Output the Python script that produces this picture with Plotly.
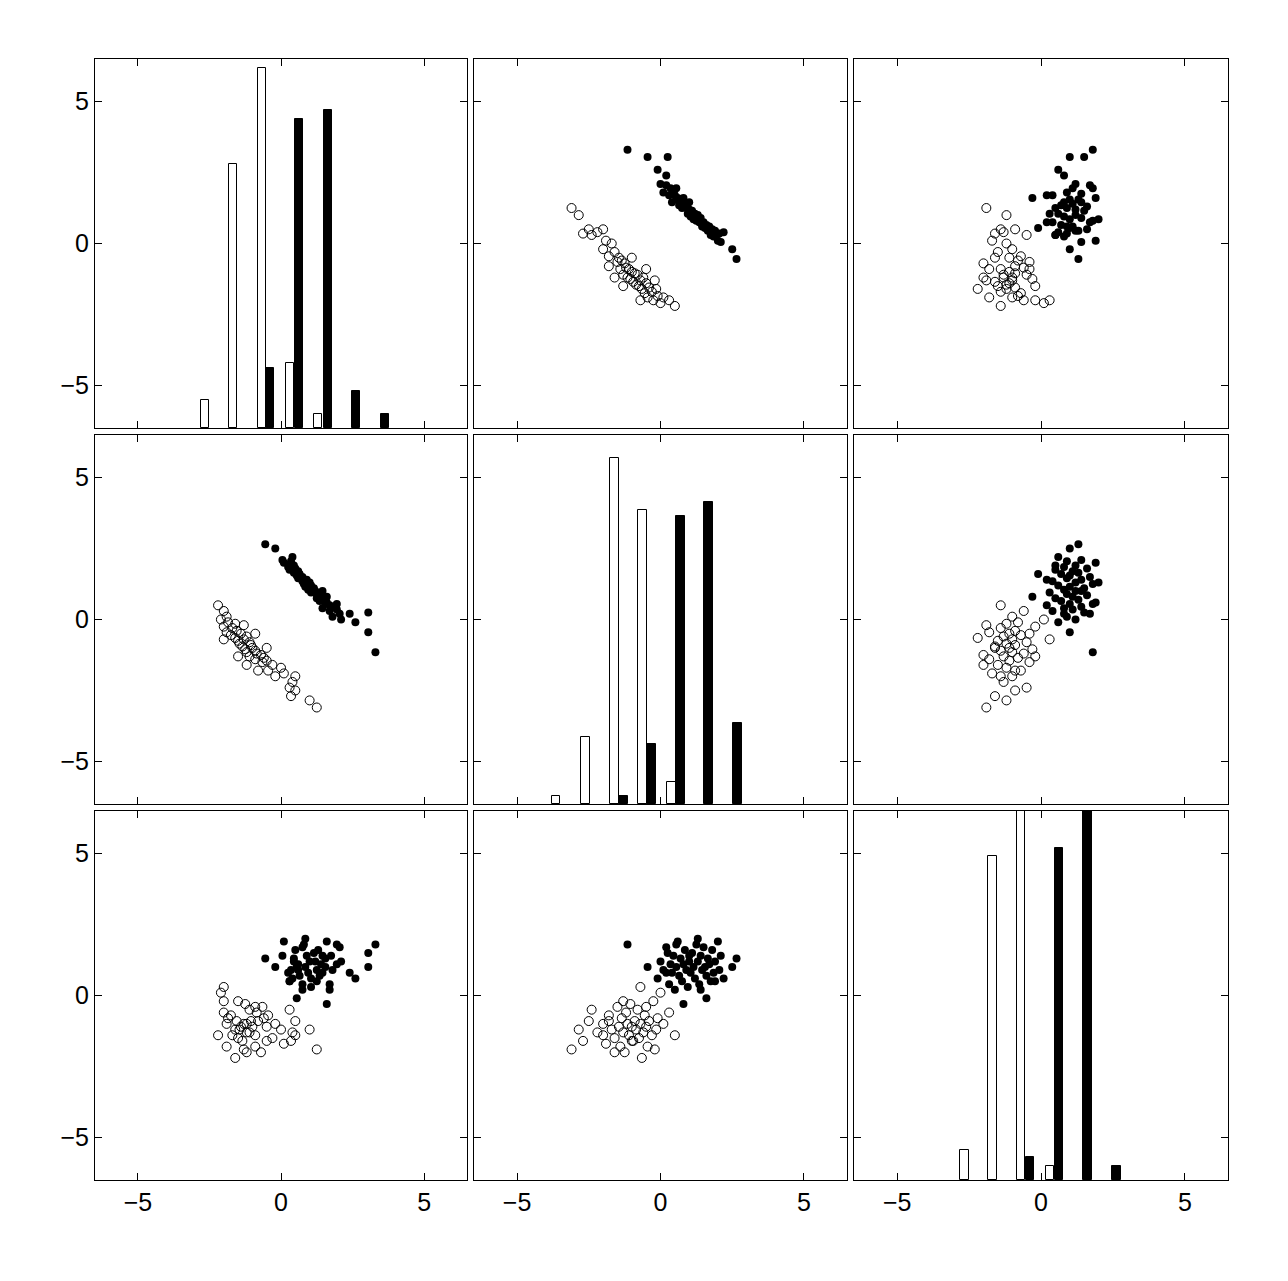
import plotly.graph_objects as go
from plotly.subplots import make_subplots

# class A (filled) variables
a_v1 = [3.3, 3.05, 3.05, 2.6, 2.1, 1.8, 2.05, 1.7, 1.95, 1.45, 1.75, 1.7, 1.55, 1.6, 1.35, 1.55,
        1.25, 1.4, 1.3, 1.25, 1.05, 1.2, 0.95, 1.15, 0.85, 1.05, 0.8, 1.0, 0.75, 0.9, 0.6, 0.75,
        0.55, 0.65, 0.45, 0.6, 0.3, 0.5, 0.25, 0.45, 0.1, 0.35, 0.05, 0.4, -0.2, -0.55, 1.6, 0.85,
        0.55, 2.4, 1.45, 0.75, 1.95, 0.3]
a_v2 = [-1.15, -0.45, 0.25, -0.1, 0.0, 0.1, 0.2, 0.3, 0.35, 0.4, 0.45, 0.5, 0.55, 0.6, 0.65, 0.7,
        0.75, 0.8, 0.85, 0.9, 0.95, 1.0, 1.05, 1.1, 1.15, 1.2, 1.25, 1.3, 1.35, 1.4, 1.45, 1.5, 1.55,
        1.6, 1.65, 1.7, 1.75, 1.8, 1.85, 1.9, 2.0, 2.05, 2.1, 2.2, 2.5, 2.65, 0.8, 1.3, 1.6, 0.2,
        1.0, 1.4, 0.55, 1.9]
a_v3 = [1.8, 1.0, 1.5, 0.6, 1.2, 0.9, 1.7, 0.4, 1.1, 0.8, 1.4, 0.2, 1.0, 1.9, 0.7, 1.3, 0.5, 1.1,
        1.6, 0.9, 0.3, 1.2, 0.8, 1.5, 1.0, 0.6, 1.8, 1.2, 0.4, 1.4, 0.9, 1.7, 1.0, 0.7, 1.3, 1.1,
        0.5, 1.6, 0.8, 1.2, 1.9, 0.9, 1.4, 0.6, 1.0, 1.3, -0.3, 2.0, -0.1, 0.8, 1.4, 0.2, 1.8, 0.5]

# class B (open) variables
b_v1 = [1.25, 1.0, 0.35, 0.5, 0.3, 0.4, -0.2, 0.1, -0.45, 0.0, -0.3, -0.65, -0.5, -0.9, -0.6,
        -1.1, -0.7, -0.85, -1.2, -0.9, -1.25, -1.0, -1.35, -1.05, -1.45, -1.1, -1.5, -1.3, -1.6,
        -1.2, -1.75, -1.4, -1.9, -1.55, -1.7, -2.0, -1.6, -1.85, -2.1, -1.9, -2.0, -2.2, -1.2,
        -0.5, -2.0, -1.5, 0.5, -1.3, -0.8, -0.9]
b_v2 = [-3.1, -2.85, -2.7, -2.5, -2.4, -2.2, -2.0, -1.9, -1.8, -1.7, -1.6, -1.5, -1.45, -1.4, -1.35,
        -1.3, -1.25, -1.2, -1.15, -1.1, -1.05, -1.0, -0.95, -0.9, -0.85, -0.8, -0.75, -0.7, -0.65,
        -0.6, -0.55, -0.5, -0.45, -0.4, -0.3, -0.25, -0.15, -0.1, 0.0, 0.1, 0.3, 0.5, -1.6, -1.0,
        -0.7, -1.3, -2.0, -0.2, -1.8, -0.5]
b_v3 = [-1.9, -1.2, -1.6, -0.9, -0.5, -1.3, -1.0, -1.7, -0.7, -1.2, -1.5, -0.4, -1.1, -1.8, -0.8,
        -1.3, -2.0, -0.6, -1.0, -1.4, -0.3, -1.1, -1.6, -0.9, -1.2, -0.5, -1.5, -1.0, -2.2, -1.3,
        -0.7, -1.1, -1.8, -0.9, -1.4, -0.2, -1.2, -0.8, 0.1, -1.0, -0.6, -1.4, -2.0, -1.6, 0.3,
        -0.2, -1.4, -1.9, -0.9, -0.4]

# histogram bars (centres and heights as drawn on the axis scale)
hist_b_x = [[-2.66, -1.68, -0.66, 0.31, 1.29],
            [-3.64, -2.62, -1.61, -0.63, 0.38],
            [-2.66, -1.68, -0.7, 0.31]]
hist_b_y = [[-5.5, 2.8, 6.2, -4.2, -6.0],
            [-6.23, -4.15, 5.7, 3.87, -5.74],
            [-5.46, 4.93, 7.0, -5.99]]
hist_a_x = [[-0.38, 0.63, 1.64, 2.62, 3.64],
            [-1.3, -0.31, 0.7, 1.68, 2.69],
            [-0.38, 0.63, 1.61, 2.62]]
hist_a_y = [[-4.4, 4.4, 4.7, -5.2, -6.0],
            [-6.23, -4.4, 3.66, 4.15, -3.63],
            [-5.7, 5.2, 7.0, -6.0]]

A = [a_v1, a_v2, a_v3]
B = [b_v1, b_v2, b_v3]
LO = -6.5

fig = make_subplots(rows=3, cols=3)
for i in range(3):
    for j in range(3):
        r, c = i + 1, j + 1
        if i == j:
            fig.add_trace(go.Bar(x=hist_b_x[i], y=[h - LO for h in hist_b_y[i]], base=LO, width=0.3,
                                 marker=dict(color="white", line=dict(color="black", width=1))),
                          row=r, col=c)
            fig.add_trace(go.Bar(x=hist_a_x[i], y=[h - LO for h in hist_a_y[i]], base=LO, width=0.3,
                                 marker=dict(color="black", line=dict(color="black", width=1))),
                          row=r, col=c)
        else:
            fig.add_trace(go.Scatter(x=B[j], y=B[i], mode="markers",
                                     marker=dict(symbol="circle-open", size=9, color="black",
                                                 line=dict(width=1))), row=r, col=c)
            fig.add_trace(go.Scatter(x=A[j], y=A[i], mode="markers",
                                     marker=dict(symbol="circle", size=8, color="black")),
                          row=r, col=c)

W, H, OFF = 1288, 1281, 8
xpix = [(95, 467), (474, 847), (854, 1228)]
ypix = [(59, 428), (435, 804), (811, 1180)]
xdom = [[(a - OFF) / W, (b - OFF) / W] for a, b in xpix]
ydom = [[1 - (b - OFF) / H, 1 - (a - OFF) / H] for a, b in ypix]
for i in range(3):
    for j in range(3):
        r, c = i + 1, j + 1
        common = dict(range=[-6.5, 6.5], tickvals=[-5, 0, 5], ticks="inside", ticklen=7,
                      showgrid=False, zeroline=False, showline=True, linecolor="black",
                      linewidth=1, mirror="ticks", tickcolor="black",
                      tickfont=dict(size=25, color="black"))
        fig.update_xaxes(domain=xdom[j], showticklabels=(i == 2), row=r, col=c, **common)
        fig.update_yaxes(domain=ydom[i], showticklabels=(j == 0), row=r, col=c, **common)

fig.update_layout(width=W, height=H, margin=dict(l=0, r=0, t=0, b=0),
                  plot_bgcolor="white", paper_bgcolor="white", showlegend=False,
                  barmode="overlay", bargap=0,
                  font=dict(family="Liberation Sans Narrow, Liberation Sans, Arial", color="black"))
fig.write_html("out.html")
